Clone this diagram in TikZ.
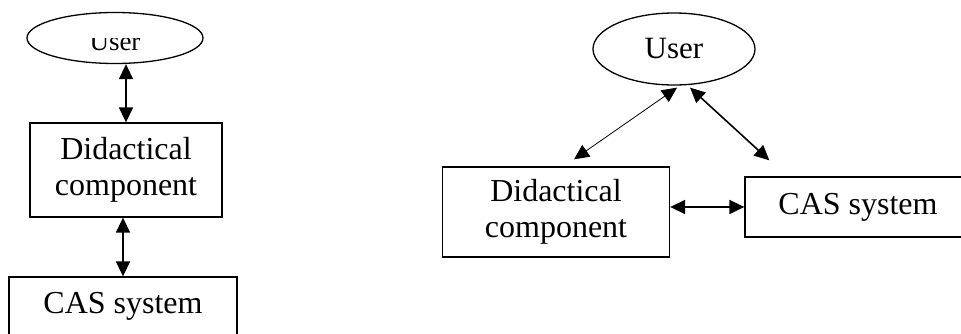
\documentclass[tikz,border=0pt]{standalone}
\usepackage{fontspec}
\setmainfont{Liberation Serif}
\usetikzlibrary{arrows.meta, shapes.geometric, positioning}

\begin{document}
\begin{tikzpicture}[x=1pt, y=1pt,
	box/.style={rectangle, draw, line width=1.3pt, inner sep=0pt, align=center,
		font=\fontsize{32}{36}\selectfont},
	usr/.style={ellipse, draw, line width=1.3pt, inner sep=0pt, font=\fontsize{31}{36}\selectfont},
	link/.style={{Triangle[length=15pt,width=14pt]}-{Triangle[length=15pt,width=14pt]}, line width=1.6pt}]
	\useasboundingbox (0,0) rectangle (961,333);
	% vertical chain
	\begin{scope}
		\node[usr, minimum width=176pt, minimum height=51pt] (userA) at (115,295) {};
		\begin{scope}
			\clip (userA.west) rectangle (userA.south east);
			\node[font=\fontsize{27}{30}\selectfont, anchor=base, inner sep=0pt] (userAtxt) at (115,283) {User};
		\end{scope}
		\node[box, minimum width=192pt, minimum height=94pt] (didA) at (126,163) {Didactical\\component};
		\node[box, minimum width=228pt, minimum height=58pt] (casA) at (123,27) {CAS system};
		\draw[link] (didA.north |- userA.south) -- (didA.north);
		\draw[link] (casA.north |- didA.south) -- (casA.north);
	\end{scope}
	% triangle
	\begin{scope}
		\node[usr, minimum width=162pt, minimum height=72pt] (userB) at (674,284) {User};
		\node[box, minimum width=227pt, minimum height=90pt] (didB) at (556,121) {Didactical\\component};
		\node[box, minimum width=226pt, minimum height=60pt] (casB) at (858,126) {CAS system};
		\draw[link] (didB.east |- casB.west) -- (casB.west);
		\draw[link, line width=0.8pt] ([xshift=18pt,yshift=7pt]didB.north) -- ([xshift=3pt,yshift=-2pt]userB.south);
		\draw[link] ([xshift=25pt,yshift=16pt]casB.north west) -- ([xshift=16pt,yshift=-2pt]userB.south);
	\end{scope}
\end{tikzpicture}
\end{document}
